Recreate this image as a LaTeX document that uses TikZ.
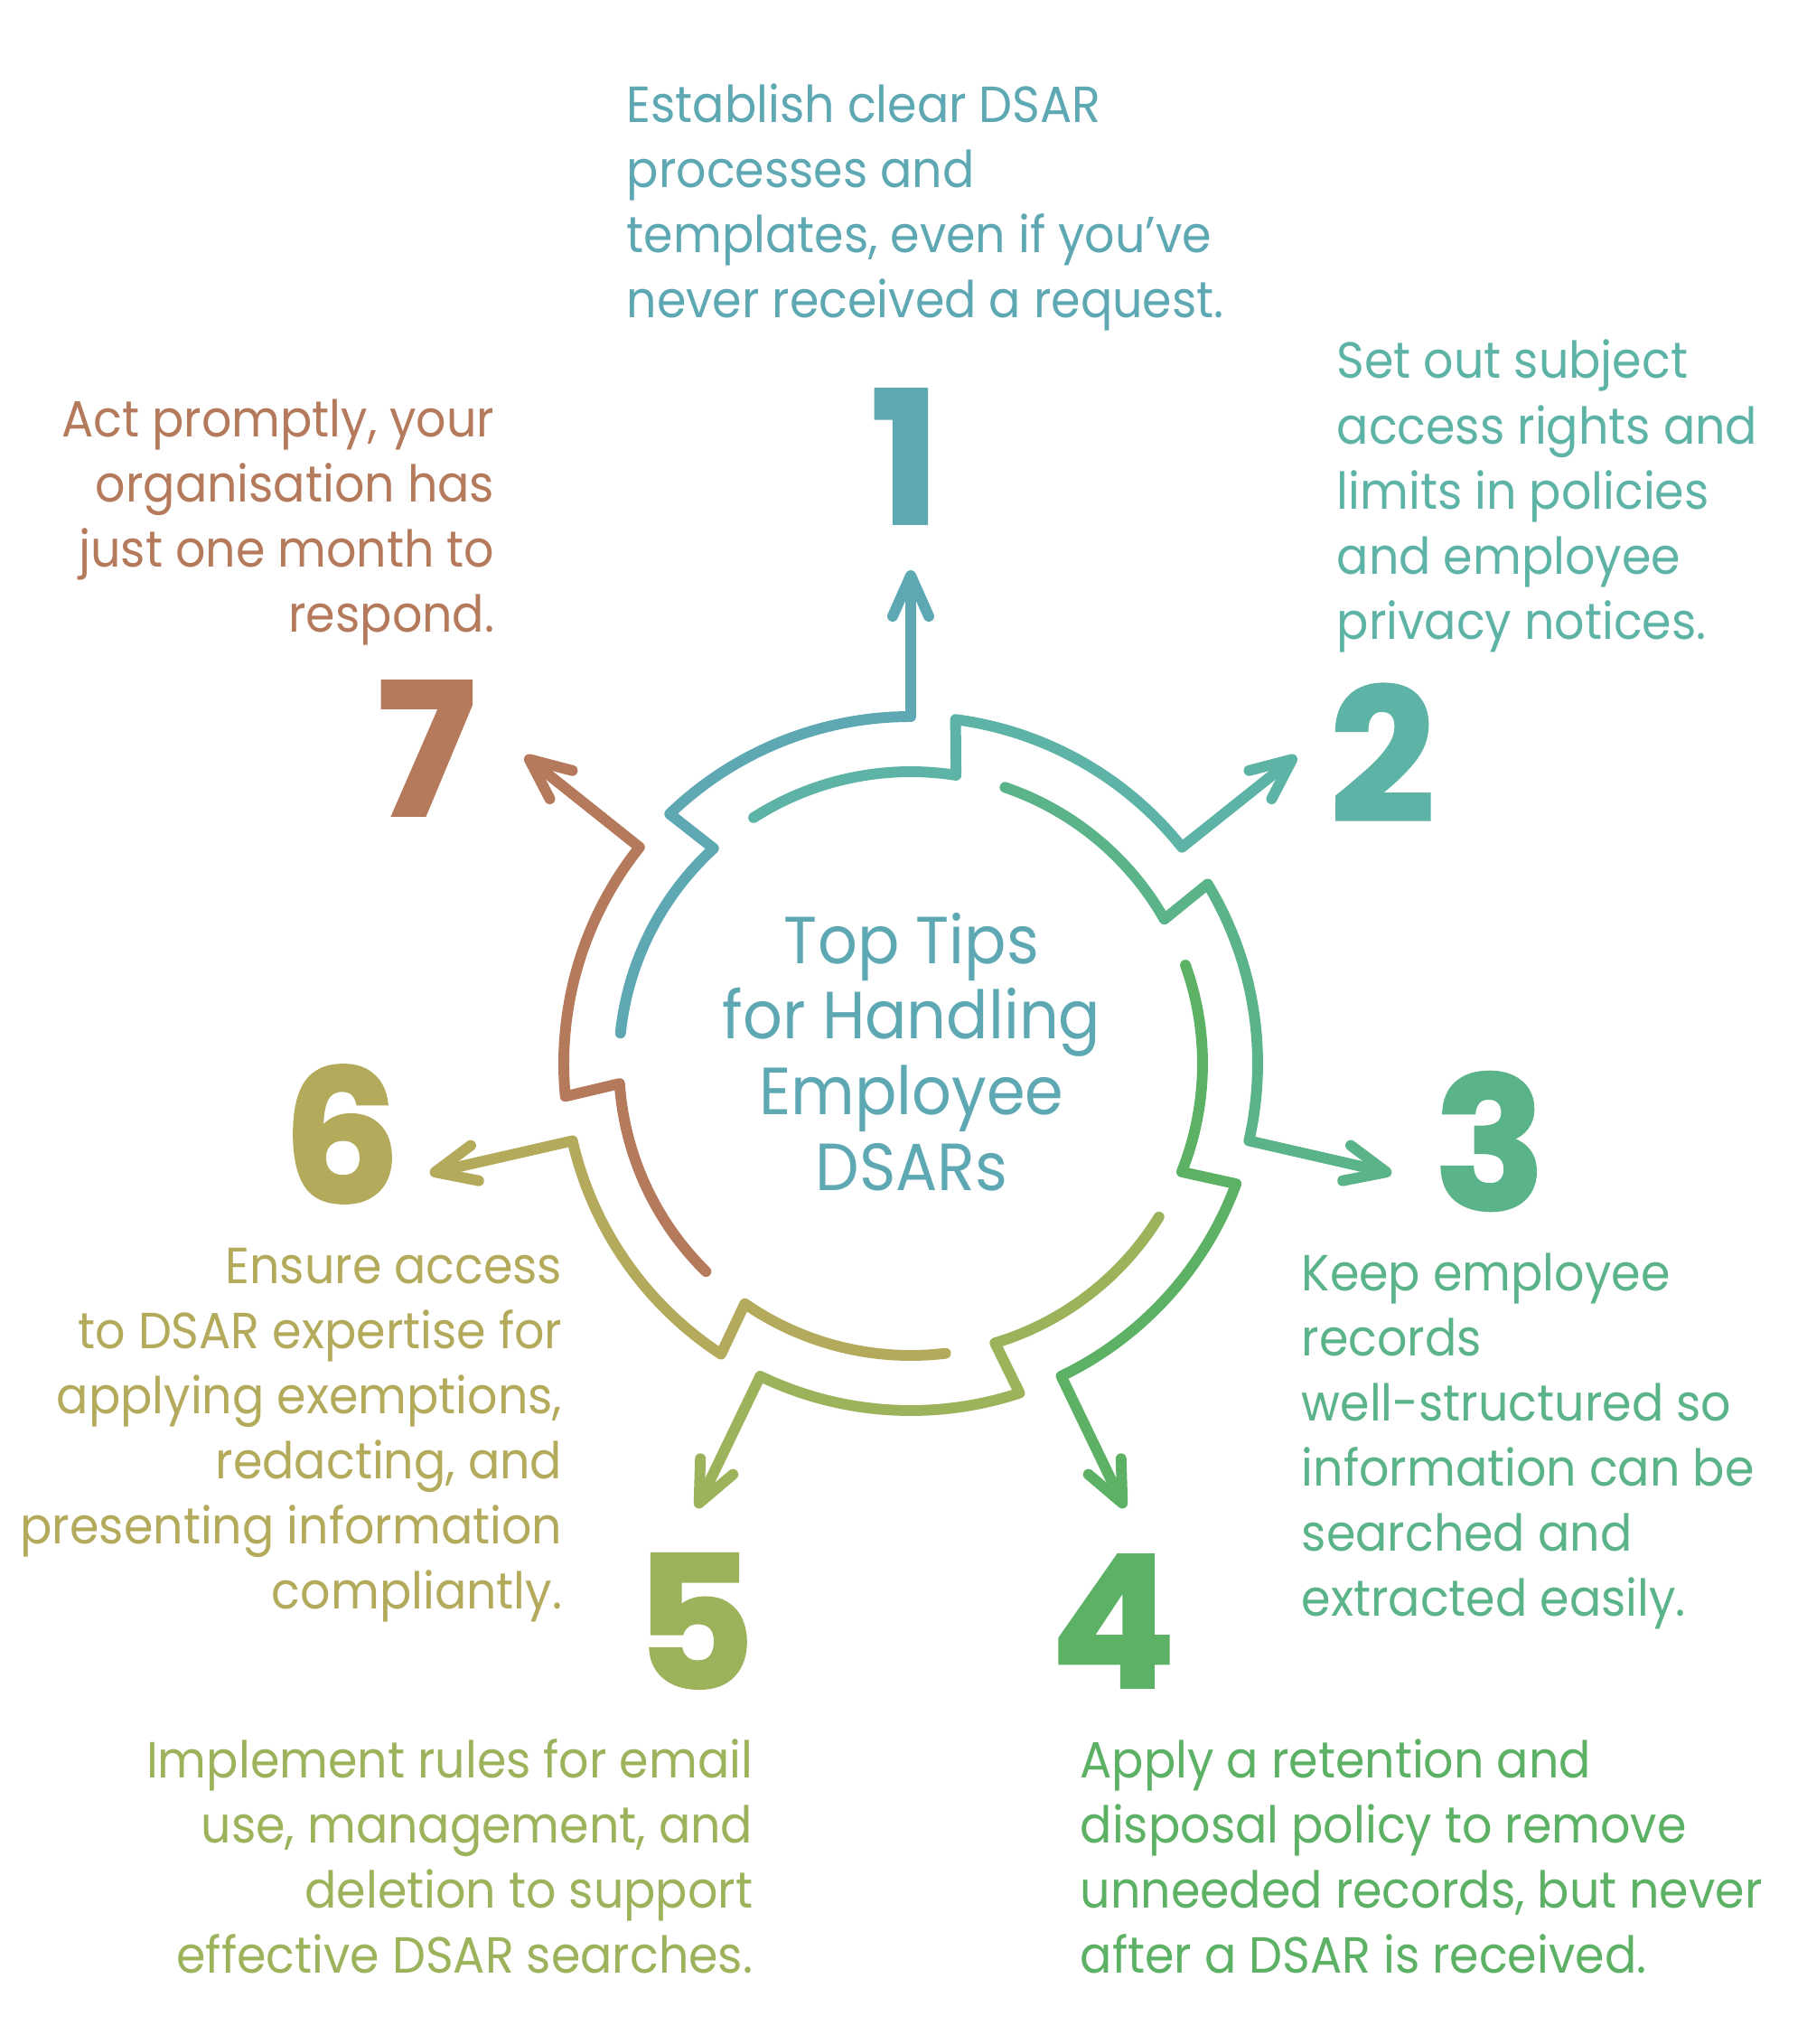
\documentclass[tikz,border=0pt]{standalone}
\usepackage{fontspec}
\setmainfont{Poppins}[FakeStretch=0.93]
\newfontfamily\numfont{Poppins}[FakeBold=1.5]
\usepackage{xcolor}
\usepackage{tikz}
\usetikzlibrary{arrows.meta}
\definecolor{tipblue}{HTML}{5DA8B3}
\definecolor{tipteal}{HTML}{5DB3A5}
\definecolor{tipmint}{HTML}{5BB38A}
\definecolor{tipgreen}{HTML}{5CB165}
\definecolor{tiplime}{HTML}{9CB35C}
\definecolor{tipolive}{HTML}{B3AA5B}
\definecolor{tipbrown}{HTML}{B47A5B}

\begin{document}
\begin{tikzpicture}[
    seg/.style={line width=3.4pt, line cap=round, line join=round, -{Straight Barb[length=4.5mm, width=4mm, round]}},
    tiptext/.style={font=\fontsize{16}{20.5}\selectfont, inner sep=0pt},
    bignum/.style={font=\fontsize{58}{58}\selectfont\numfont\bfseries, inner sep=0pt}
]
\useasboundingbox (-10.08,-10.85) rectangle (9.92,11.77);

\foreach \c [count=\i] in {tipblue,tipteal,tipmint,tipgreen,tiplime,tipolive,tipbrown} {
    \pgfmathsetmacro\t{90-(\i-1)*360/7}
    \pgfmathsetmacro\ta{\t+84}
    \pgfmathsetmacro\tb{\t+42.5}
    \pgfmathsetmacro\tc{\t+44}
    \coordinate (tip\i) at (\t:5.46);
    \draw[seg, \c] (\ta:3.23) arc[start angle=\ta, end angle=\tb, radius=3.23]
        -- (\tc:3.84) arc[start angle=\tc, end angle=\t, radius=3.84] -- (tip\i);
}

\node[align=center, text=tipblue, font=\fontsize{21}{23.8}\selectfont] (title) at (0.01,0.13) {Top Tips\\for Handling\\Employee\\DSARs};

\node[bignum, text=tipblue] (n1) at (-0.06,6.72) {1};
\node[bignum, text=tipteal] (n2) at (5.22,3.44) {2};
\node[bignum, text=tipmint] (n3) at (6.41,-0.86) {3};
\node[bignum, text=tipgreen] (n4) at (2.24,-6.17) {4};
\node[bignum, text=tiplime] (n5) at (-2.39,-6.17) {5};
\node[bignum, text=tipolive] (n6) at (-6.30,-0.78) {6};
\node[bignum, text=tipbrown] (n7) at (-5.36,3.49) {7};

\node[tiptext, text=tipblue, align=left, anchor=west] (t1) at (-3.15,9.48) {Establish clear DSAR\\processes and\\templates, even if you’ve\\never received a request.};
\node[tiptext, text=tipteal, align=left, anchor=west] (t2) at (4.71,6.28) {Set out subject\\access rights and\\limits in policies\\and employee\\privacy notices.};
\node[tiptext, text=tipmint, align=left, anchor=west] (t3) at (4.32,-4.18) {Keep employee\\records\\well-structured so\\information can be\\searched and\\extracted easily.};
\node[tiptext, text=tipgreen, align=left, anchor=west] (t4) at (1.87,-8.77) {Apply a retention and\\disposal policy to remove\\unneeded records, but never\\after a DSAR is received.};
\node[tiptext, text=tiplime, align=right, anchor=east] (t5) at (-1.74,-8.77) {Implement rules for email\\use, management, and\\deletion to support\\effective DSAR searches.};
\node[tiptext, text=tipolive, align=right, anchor=east] (t6) at (-3.85,-4.11) {Ensure access\\to DSAR expertise for\\applying exemptions,\\redacting, and\\presenting information\\compliantly.};
\node[tiptext, text=tipbrown, align=right, anchor=east] (t7) at (-4.60,5.99) {Act promptly, your\\organisation has\\just one month to\\respond.};
\end{tikzpicture}
\end{document}
